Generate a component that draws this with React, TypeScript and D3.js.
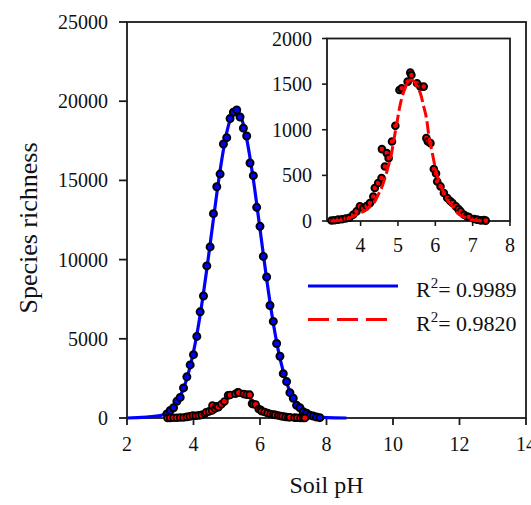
import React from 'react';
import * as d3 from 'd3';

// ---- Data ----
const blueCurvePH = [2.0, 3.0, 3.2, 3.4, 3.6, 3.8, 4.0, 4.2, 4.4, 4.6, 4.8, 5.0, 5.1, 5.2, 5.3, 5.4, 5.5, 5.6, 5.8, 6.0, 6.2, 6.4, 6.6, 6.8, 7.0, 7.2, 7.4, 7.6, 7.8, 8.0, 8.6];
const blueCurveRichness = [0, 150, 340, 700, 1370, 2480, 4170, 6500, 9390, 12570, 15630, 18030, 18820, 19280, 19390, 19140, 18540, 17620, 15050, 11930, 8770, 5980, 3780, 2220, 1210, 610, 290, 120, 50, 20, 0];

const bluePointPH = [3.2, 3.3, 3.4, 3.5, 3.6, 3.7, 3.8, 3.9, 4.0, 4.1, 4.2, 4.3, 4.4, 4.5, 4.6, 4.7, 4.8, 4.9, 5.0, 5.1, 5.2, 5.3, 5.4, 5.5, 5.6, 5.7, 5.8, 5.9, 6.0, 6.1, 6.2, 6.3, 6.4, 6.5, 6.6, 6.7, 6.8, 6.9, 7.0, 7.1, 7.2, 7.3, 7.4, 7.5, 7.6, 7.7, 7.8];
const bluePointRichness = [250, 480, 650, 1050, 1300, 1900, 2600, 3350, 4000, 5150, 6700, 7700, 9600, 10800, 12900, 14600, 15400, 17300, 17700, 18900, 19300, 19450, 19000, 18300, 17800, 16100, 15300, 13300, 12100, 10200, 8900, 7100, 6100, 4700, 3900, 2800, 2300, 1600, 1250, 800, 650, 400, 300, 180, 120, 60, 20];

const redCurvePH = [3.2, 3.3, 3.44, 3.62, 3.8, 3.98, 4.16, 4.25, 4.38, 4.47, 4.56, 4.65, 4.74, 4.83, 4.89, 4.97, 5.04, 5.1, 5.19, 5.28, 5.35, 5.45, 5.51, 5.6, 5.69, 5.77, 5.83, 5.92, 6.01, 6.1, 6.19, 6.32, 6.46, 6.59, 6.77, 6.95, 7.18, 7.4];
const redCurveRichness = [0, 2, 7, 22, 51, 88, 124, 160, 215, 288, 361, 470, 598, 744, 889, 1072, 1236, 1345, 1455, 1528, 1546, 1520, 1473, 1400, 1254, 1109, 926, 744, 562, 434, 343, 233, 160, 88, 44, 15, 3, 0];

const redPointPH = [3.22, 3.3, 3.4, 3.5, 3.6, 3.7, 3.8, 3.89, 3.98, 4.07, 4.16, 4.25, 4.34, 4.38, 4.47, 4.56, 4.57, 4.65, 4.7, 4.75, 4.84, 4.93, 5.04, 5.1, 5.26, 5.33, 5.36, 5.51, 5.6, 5.69, 5.76, 5.8, 5.87, 5.96, 6.02, 6.05, 6.14, 6.23, 6.32, 6.4, 6.46, 6.55, 6.62, 6.68, 6.77, 6.85, 6.9, 7.04, 7.12, 7.22, 7.3, 7.35];
const redPointRichness = [5, 8, 15, 20, 28, 35, 69, 105, 160, 140, 165, 196, 269, 361, 416, 470, 788, 597, 744, 689, 871, 1043, 1436, 1455, 1527, 1626, 1600, 1510, 1473, 1473, 908, 871, 853, 569, 520, 433, 379, 306, 252, 220, 197, 160, 130, 105, 69, 50, 44, 22, 15, 7, 10, 4];

const mainXTicks = [2, 4, 6, 8, 10, 12, 14];
const mainYTicks = [0, 5000, 10000, 15000, 20000, 25000];
const insetXTicks = [4, 5, 6, 7, 8];
const insetYTicks = [0, 500, 1000, 1500, 2000];
const legendValues = ['0.9989', '0.9820'];
const xTitle = 'Soil pH';
const yTitle = 'Species richness';

const FONT = '"Liberation Serif", "Times New Roman", serif';

export default function App() {
  const x = d3.scaleLinear().domain([2, 14]).range([127, 526]);
  const y = d3.scaleLinear().domain([0, 25000]).range([418, 22]);
  const ix = d3.scaleLinear().domain([3.1, 8]).range([327, 510]);
  const iy = d3.scaleLinear().domain([0, 2000]).range([221, 38.5]);

  const bluePts = blueCurvePH.map((p, i) => [p, blueCurveRichness[i]] as [number, number]);
  const redPts = redCurvePH.map((p, i) => [p, redCurveRichness[i]] as [number, number]);

  const mainLine = d3.line<[number, number]>().x(d => x(d[0])).y(d => y(d[1])).curve(d3.curveMonotoneX);
  const insetLine = d3.line<[number, number]>().x(d => ix(d[0])).y(d => iy(d[1])).curve(d3.curveMonotoneX);

  const axisColor = '#1a1a1a';

  return (
    <svg width={531} height={505} style={{ position: 'absolute', left: 0, top: 0, background: '#fff' }} fontFamily={FONT}>
      <rect x={0} y={0} width={531} height={505} fill="#fff" />
      {/* main frame */}
      <rect x={x(2)} y={y(25000)} width={x(14) - x(2)} height={y(0) - y(25000)} fill="none" stroke={axisColor} strokeWidth={1.8} />
      {/* main y ticks */}
      {mainYTicks.map(t => (
        <g key={'my' + t}>
          <line x1={x(2) - 8} x2={x(2)} y1={y(t)} y2={y(t)} stroke={axisColor} strokeWidth={1.8} />
          <text x={108} y={y(t) + 7} textAnchor="end" fontSize={20} fill="#111">{t}</text>
        </g>
      ))}
      {/* main x ticks */}
      {mainXTicks.map(t => (
        <g key={'mx' + t}>
          <line x1={x(t)} x2={x(t)} y1={y(0)} y2={y(0) + 7} stroke={axisColor} strokeWidth={1.8} />
          <text x={x(t)} y={451} textAnchor="middle" fontSize={20} fill="#111">{t}</text>
        </g>
      ))}
      <text x={(x(2) + x(14)) / 2} y={493} textAnchor="middle" fontSize={24} fill="#111">{xTitle}</text>
      <text transform={`translate(37,228) rotate(-90)`} textAnchor="middle" fontSize={26} fill="#111">{yTitle}</text>

      {/* main series */}
      <path d={mainLine(bluePts) || ''} fill="none" stroke="#0000ff" strokeWidth={3.2} />
      {bluePointPH.map((p, i) => (
        <circle key={'bp' + i} cx={x(p)} cy={y(bluePointRichness[i])} r={3.5} fill="#0000ff" stroke="#000" strokeWidth={2} />
      ))}
      <path d={mainLine(redPts) || ''} fill="none" stroke="#ff0000" strokeWidth={3} strokeDasharray="11,4" />
      {redPointPH.map((p, i) => (
        <circle key={'rp' + i} cx={x(p)} cy={y(redPointRichness[i])} r={3.4} fill="#ff0000" stroke="#000" strokeWidth={1.8} />
      ))}

      {/* inset */}
      <rect x={ix(3.1)} y={iy(2000)} width={ix(8) - ix(3.1)} height={iy(0) - iy(2000)} fill="#fff" stroke={axisColor} strokeWidth={1.8} />
      {insetYTicks.map(t => (
        <g key={'iy' + t}>
          <line x1={ix(3.1) - 5} x2={ix(3.1)} y1={iy(t)} y2={iy(t)} stroke={axisColor} strokeWidth={1.6} />
          <text x={312} y={iy(t) + 7} textAnchor="end" fontSize={20} fill="#111">{t}</text>
        </g>
      ))}
      {insetXTicks.map(t => (
        <g key={'ix' + t}>
          <line x1={ix(t)} x2={ix(t)} y1={iy(0)} y2={iy(0) + 5} stroke={axisColor} strokeWidth={1.6} />
          <text x={ix(t)} y={252} textAnchor="middle" fontSize={20} fill="#111">{t}</text>
        </g>
      ))}
      {redPointPH.map((p, i) => (
        <circle key={'ip' + i} cx={ix(p)} cy={iy(redPointRichness[i])} r={3.3} fill="#ff0000" stroke="#000" strokeWidth={2} />
      ))}
      <path d={insetLine(redPts) || ''} fill="none" stroke="#ff0000" strokeWidth={3} strokeDasharray="12,4" />

      {/* legend */}
      <line x1={308} x2={398} y1={286} y2={286} stroke="#0000ff" strokeWidth={3} />
      <line x1={308} x2={388} y1={319.5} y2={319.5} stroke="#ff0000" strokeWidth={3} strokeDasharray="21,8" />
      {legendValues.map((v, i) => (
        <text key={'lg' + i} x={416} y={297 + i * 33.5} fontSize={22} fill="#111">
          R<tspan fontSize={15} dy={-9}>2</tspan><tspan dy={9}>{'= ' + v}</tspan>
        </text>
      ))}
    </svg>
  );
}
